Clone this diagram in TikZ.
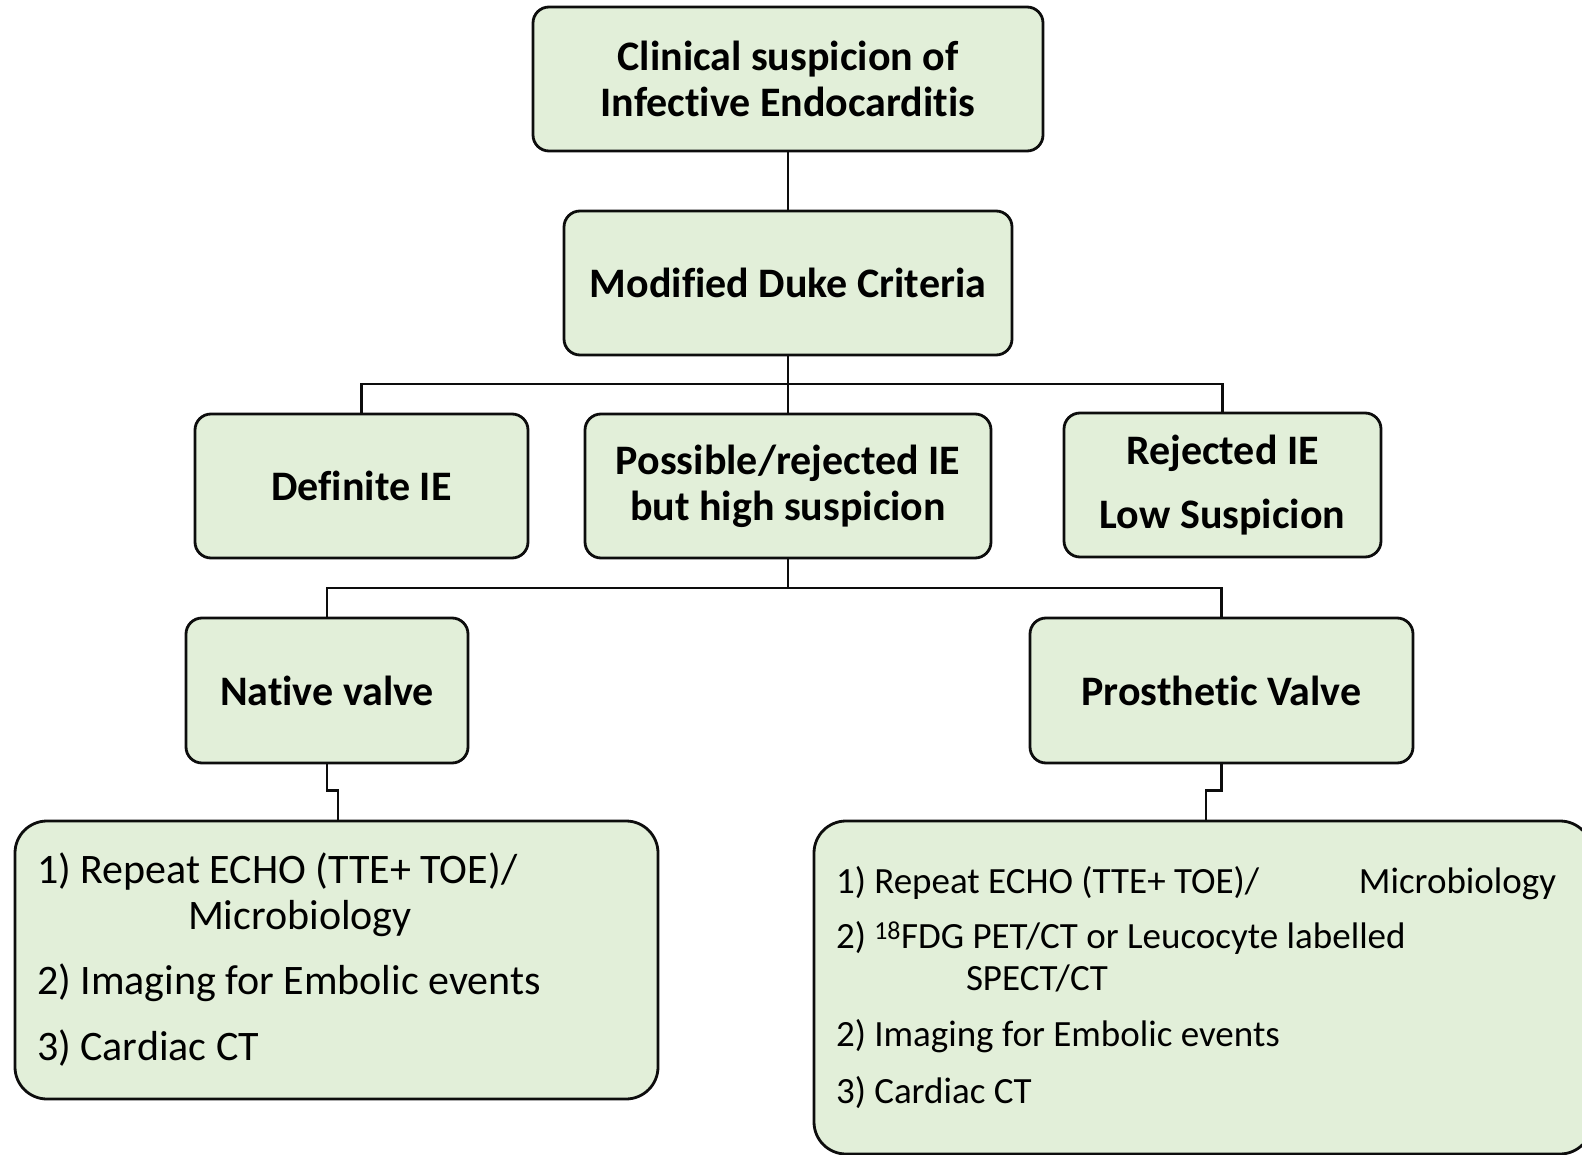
\documentclass[tikz,border=0pt]{standalone}
\usepackage{fontspec}
\setmainfont{Carlito}[Ligatures=NoCommon]
\usetikzlibrary{calc}
\definecolor{boxfill}{HTML}{E2EFD9}
\definecolor{boxline}{HTML}{0D0D0D}
% fixed, unstretched word spacing for the list texts
\newcommand\tightwords{\spaceskip=0.226em\relax}
\begin{document}
\begin{tikzpicture}[x=1pt,y=-1pt,
  box/.style={draw=boxline, fill=boxfill, line width=2.8pt, rounded corners=16pt,
    inner sep=0pt, align=center, font=\fontsize{42}{46}\selectfont\bfseries},
  listbox/.style={draw=boxline, fill=boxfill, line width=2.8pt, rounded corners=32pt,
    inner sep=0pt, align=left},
  link/.style={draw=boxline, line width=2.8pt}]
\useasboundingbox (0,0) rectangle (1582,1155);

% decision levels
\node[box, minimum width=510pt, minimum height=144pt] (top) at (788,79)
  {Clinical suspicion of\\Infective Endocarditis};
\node[box, minimum width=448pt, minimum height=144pt] (duke) at (788,283)
  {Modified Duke Criteria};
\node[box, minimum width=333pt, minimum height=144pt] (definite) at (361.5,486)
  {Definite IE};
\node[box, minimum width=406pt, minimum height=144pt] (possible) at (788,486)
  {Possible/rejected IE\\but high suspicion};
\node[box, minimum width=317pt, minimum height=144pt] (rejected) at (1222.5,485)
  {Rejected IE\\[18pt]Low Suspicion};
\node[box, minimum width=282pt, minimum height=145pt] (native) at (327,690.5)
  {Native valve};
\node[box, minimum width=383pt, minimum height=145pt] (prosthetic) at (1221.5,690.5)
  {Prosthetic Valve};

% work-up lists
\node[listbox, minimum width=643pt, minimum height=278pt, text width=599pt,
  font=\fontsize{42}{46}\selectfont] (nlist) at (336.5,960)
  {\tightwords 1) Repeat ECHO (TTE+ TOE)/\\
   \hspace*{151pt}Microbiology\\[19pt]
   2) Imaging for Embolic events\\[20pt]
   3) Cardiac CT};
\node[listbox, minimum width=778pt, minimum height=333pt, text width=734pt,
  font=\fontsize{37}{42}\selectfont] (plist) at (1203,987.5)
  {\tightwords\makebox[523pt][l]{1) Repeat ECHO (TTE+ TOE)/}Microbiology\\[13pt]
   2) \textsuperscript{18}FDG PET/CT or Leucocyte labelled\\
   \hspace*{130pt}SPECT/CT\\[14pt]
   2) Imaging for Embolic events\\[15pt]
   3) Cardiac CT};

% connectors
\coordinate (bus1) at (788,384);
\coordinate (bus2) at (788,588);
\draw[link] (top.south) -- (duke.north);
\draw[link] (duke.south) -- (possible.north);
\draw[link] (definite.north) |- (bus1) -| (rejected.north);
\draw[link] (possible.south) -- (bus2);
\draw[link] (native.north) |- (bus2) -| (prosthetic.north);
\draw[link] (native.south) |- ($(nlist.north)+(1.5,-29)$) -- ($(nlist.north)+(1.5,0)$);
\draw[link] (prosthetic.south) |- ($(plist.north)+(3,-29)$) -- ($(plist.north)+(3,0)$);
\end{tikzpicture}
\end{document}
